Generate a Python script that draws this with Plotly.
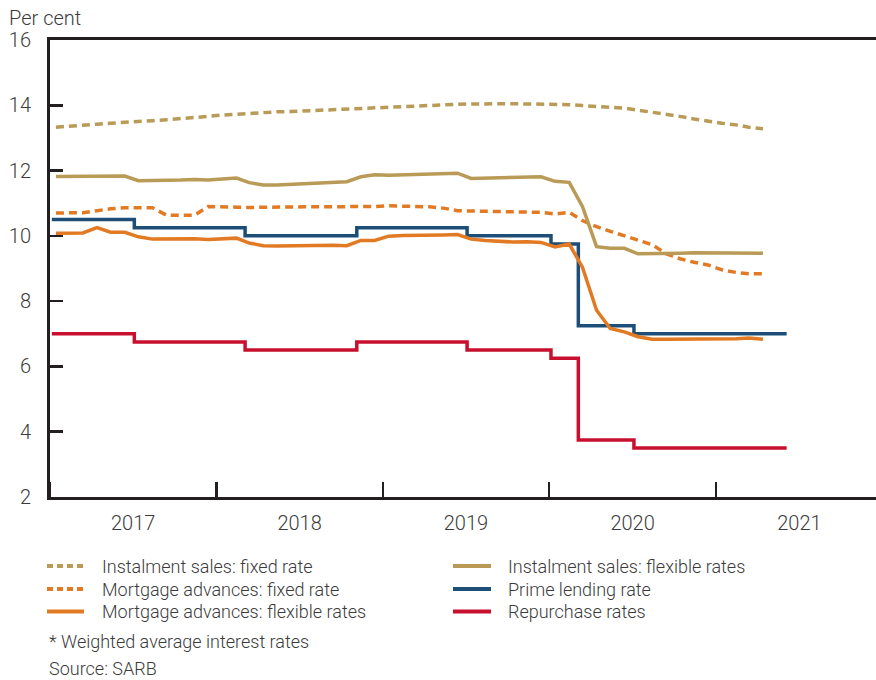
import plotly.graph_objects as go

# ---- data (monthly) ----
step_months = [f"{y}-{m:02d}" for y in range(2017, 2022) for m in range(1, 13)][:54]   # Jan 2017 - Jun 2021
line_months = step_months[:52]                                                         # Jan 2017 - Apr 2021

repo_rate = [7.0, 7.0, 7.0, 7.0, 7.0, 7.0,
             6.75, 6.75, 6.75, 6.75, 6.75, 6.75, 6.75, 6.75,
             6.5, 6.5, 6.5, 6.5, 6.5, 6.5, 6.5, 6.5,
             6.75, 6.75, 6.75, 6.75, 6.75, 6.75, 6.75, 6.75,
             6.5, 6.5, 6.5, 6.5, 6.5, 6.5,
             6.25, 6.25,
             3.75, 3.75, 3.75, 3.75,
             3.5, 3.5, 3.5, 3.5, 3.5, 3.5, 3.5, 3.5, 3.5, 3.5, 3.5, 3.5]

prime_rate = [10.5, 10.5, 10.5, 10.5, 10.5, 10.5,
              10.25, 10.25, 10.25, 10.25, 10.25, 10.25, 10.25, 10.25,
              10.0, 10.0, 10.0, 10.0, 10.0, 10.0, 10.0, 10.0,
              10.25, 10.25, 10.25, 10.25, 10.25, 10.25, 10.25, 10.25,
              10.0, 10.0, 10.0, 10.0, 10.0, 10.0,
              9.75, 9.75,
              7.25, 7.25, 7.25, 7.25,
              7.0, 7.0, 7.0, 7.0, 7.0, 7.0, 7.0, 7.0, 7.0, 7.0, 7.0, 7.0]

instalment_fixed = [13.33, 13.37, 13.39, 13.42, 13.45, 13.47, 13.50, 13.53, 13.56, 13.59, 13.61, 13.66,
                    13.70, 13.73, 13.76, 13.78, 13.80, 13.81, 13.83, 13.85, 13.86, 13.88, 13.90, 13.93,
                    13.95, 13.97, 13.98, 14.00, 14.01, 14.03, 14.04, 14.05, 14.05, 14.05, 14.04, 14.04,
                    14.03, 14.02, 13.99, 13.97, 13.95, 13.91, 13.85, 13.79, 13.72, 13.66, 13.58, 13.51,
                    13.45, 13.40, 13.33, 13.28]

instalment_flexible = [11.82, 11.82, 11.82, 11.82, 11.82, 11.83, 11.69, 11.69, 11.70, 11.71, 11.73, 11.71,
                       11.74, 11.77, 11.63, 11.56, 11.56, 11.58, 11.60, 11.62, 11.64, 11.66, 11.81, 11.87,
                       11.86, 11.87, 11.88, 11.89, 11.90, 11.92, 11.76, 11.77, 11.78, 11.79, 11.80, 11.81,
                       11.67, 11.64, 10.90, 9.67, 9.62, 9.62, 9.45, 9.45, 9.46, 9.47, 9.48, 9.48,
                       9.48, 9.48, 9.48, 9.47]

mortgage_fixed = [10.70, 10.70, 10.71, 10.77, 10.83, 10.86, 10.87, 10.86, 10.63, 10.62, 10.63, 10.90,
                  10.90, 10.88, 10.87, 10.88, 10.88, 10.88, 10.89, 10.89, 10.89, 10.90, 10.90, 10.90,
                  10.92, 10.91, 10.90, 10.89, 10.85, 10.77, 10.76, 10.75, 10.75, 10.74, 10.73, 10.72,
                  10.67, 10.72, 10.47, 10.28, 10.14, 10.01, 9.88, 9.73, 9.45, 9.30, 9.19, 9.11,
                  8.96, 8.88, 8.84, 8.84]

mortgage_flexible = [10.08, 10.08, 10.09, 10.25, 10.11, 10.11, 9.97, 9.90, 9.91, 9.91, 9.91, 9.89,
                     9.90, 9.93, 9.78, 9.70, 9.69, 9.70, 9.70, 9.71, 9.71, 9.70, 9.86, 9.86,
                     9.99, 10.01, 10.01, 10.02, 10.03, 10.04, 9.90, 9.86, 9.83, 9.81, 9.82, 9.80,
                     9.66, 9.75, 9.04, 7.72, 7.16, 7.06, 6.91, 6.83, 6.83, 6.83, 6.84, 6.83,
                     6.84, 6.85, 6.87, 6.83]

series_names = ["Instalment sales: fixed rate", "Mortgage advances: fixed rate",
                "Mortgage advances: flexible rates", "Instalment sales: flexible rates",
                "Prime lending rate", "Repurchase rates"]
footnotes = ["* Weighted average interest rates", "Source: SARB"]
y_label = "Per cent"

# ---- styling ----
TAN = "#B99A56"
ORANGE = "#E27A24"
BLUE = "#1D4E78"
RED = "#C8102E"
AXIS = "#231F20"
TEXT = "#3B3B3B"
FONT = "Roboto"
DOT = "8px,5px"

W, H = 876, 680
ML, MR, MT, MB = 50, 0, 40, 183
PW, PH = W - ML - MR, H - MT - MB

def px(x):
    return (x - ML) / PW

def py(y):
    return (H - MB - y) / PH

step_x = [m + "-05" for m in step_months]
line_x = [m + "-14" for m in line_months]

fig = go.Figure()

def add(x, y, name, color, dash, shape="linear"):
    fig.add_trace(go.Scatter(
        x=x, y=y, name=name, mode="lines", showlegend=False,
        line=dict(color=color, width=3.5, dash=dash, shape=shape),
        hoverinfo="skip"))

add(step_x, repo_rate, series_names[5], RED, "solid", "hv")
add(step_x, prime_rate, series_names[4], BLUE, "solid", "hv")
add(line_x, mortgage_flexible, series_names[2], ORANGE, "solid")
add(line_x, mortgage_fixed, series_names[1], ORANGE, DOT)
add(line_x, instalment_flexible, series_names[3], TAN, "solid")
add(line_x, instalment_fixed, series_names[0], TAN, DOT)

# ---- legend (two columns, drawn in paper coordinates) ----
legend_style = [(TAN, "6px,4px"), (ORANGE, "6px,4px"), (ORANGE, "solid"),
                (TAN, "solid"), (BLUE, "solid"), (RED, "solid")]
col_sym_x = [(47, 84), (453, 491)]
col_txt_x = [100, 506]
row_y = [566, 589, 611.5]

shapes = []
annotations = []
for i, (name, (color, dash)) in enumerate(zip(series_names, legend_style)):
    col, row = divmod(i, 3)
    x0, x1 = col_sym_x[col]
    shapes.append(dict(type="line", xref="paper", yref="paper",
                       x0=px(x0), x1=px(x1), y0=py(row_y[row]), y1=py(row_y[row]),
                       line=dict(color=color, width=4, dash=dash)))
    annotations.append(dict(text=name, xref="paper", yref="paper",
                            x=px(col_txt_x[col]), y=py(row_y[row]),
                            xanchor="left", yanchor="middle", showarrow=False,
                            font=dict(size=18, family=FONT, color=TEXT, weight=300)))

for txt, yy in zip(footnotes, [641, 668]):
    annotations.append(dict(text=txt, xref="paper", yref="paper", x=px(47), y=py(yy),
                            xanchor="left", yanchor="middle", showarrow=False,
                            font=dict(size=18, family=FONT, color=TEXT, weight=300)))

annotations.append(dict(text=y_label, xref="paper", yref="paper", x=px(7), y=py(18),
                        xanchor="left", yanchor="middle", showarrow=False,
                        font=dict(size=20, family=FONT, color=TEXT, weight=300)))

fig.update_layout(
    width=W, height=H,
    margin=dict(l=ML, r=MR, t=MT, b=MB),
    paper_bgcolor="white", plot_bgcolor="white",
    font=dict(family=FONT, size=20, color=TEXT, weight=300),
    showlegend=False,
    xaxis=dict(
        type="date", range=["2017-01-01", "2021-12-18"],
        tick0="2017-01-01", dtick="M12", tickformat="%Y", ticklabelmode="period",
        ticks="inside", ticklen=15, tickwidth=2.5, tickcolor=AXIS,
        showline=True, linecolor=AXIS, linewidth=3, mirror=True,
        showgrid=False, zeroline=False, ticklabelstandoff=6,
        tickfont=dict(size=20, family=FONT, color=TEXT, weight=300),
    ),
    yaxis=dict(
        range=[2, 16], tickvals=[2, 4, 6, 8, 10, 12, 14, 16],
        ticks="inside", ticklen=13, tickwidth=2.5, tickcolor=AXIS,
        showline=True, linecolor=AXIS, linewidth=3,
        showgrid=False, zeroline=False, ticklabelstandoff=12,
        tickfont=dict(size=20, family=FONT, color=TEXT, weight=300),
    ),
    shapes=shapes,
    annotations=annotations,
)

fig.write_html("out.html",
               config={"displayModeBar": False, "staticPlot": True},
               post_script="document.body.style.margin='0';document.body.style.overflow='hidden';")
